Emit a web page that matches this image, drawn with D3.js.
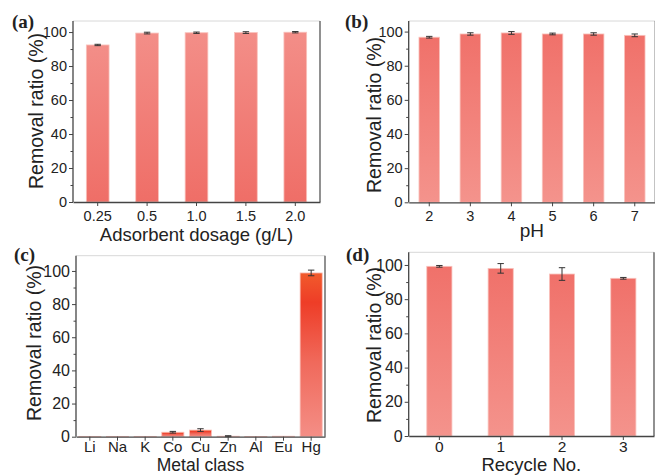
<!DOCTYPE html>
<html>
<head>
<meta charset="utf-8">
<script src="https://cdn.jsdelivr.net/npm/d3@7"></script>
<style>
  html, body { margin: 0; padding: 0; background: #fff; }
  svg { display: block; }
  text { font-family: "Liberation Sans", Arial, Helvetica, sans-serif; fill: #222; }
</style>
</head>
<body>
<svg id="chart" width="655" height="475"></svg>
<script>
// ---- data ----
const dosageCats = ["0.25", "0.5", "1.0", "1.5", "2.0"];
const dosageVals = [92.4, 99.4, 99.6, 99.7, 99.9];
const dosageErr  = [0.4, 0.5, 0.4, 0.5, 0.4];

const phCats = ["2", "3", "4", "5", "6", "7"];
const phVals = [96.7, 98.6, 99.2, 98.6, 98.6, 97.8];
const phErr  = [0.5, 0.7, 0.8, 0.5, 0.7, 0.8];

const metalCats = ["Li", "Na", "K", "Co", "Cu", "Zn", "Al", "Eu", "Hg"];
const metalVals = [0.2, 0.2, 0.2, 2.7, 4.0, 0.3, 0.1, 0.3, 98.8];
const metalErr  = [0, 0, 0, 0.5, 0.8, 0.3, 0, 0, 1.7];

const recycleCats = ["0", "1", "2", "3"];
const recycleVals = [99.2, 98.0, 94.7, 92.2];
const recycleErr  = [0.5, 2.8, 3.7, 0.5];

const yMajorTicks = [0, 20, 40, 60, 80, 100];
const yMinorTicks = [10, 30, 50, 70, 90];
const yTitle = "Removal ratio (%)";

// ---- drawing ----
const svg = d3.select("#chart");
const defs = svg.append("defs");

function gradient(id, stops) {
  const g = defs.append("linearGradient").attr("id", id)
    .attr("x1", 0).attr("y1", 0).attr("x2", 0).attr("y2", 1);
  stops.forEach(s => g.append("stop").attr("offset", s[0]).attr("stop-color", s[1]));
}
gradient("gA", [[0, "#f38e88"], [1, "#ef6e67"]]);
gradient("gB", [[0, "#f0716a"], [1, "#f4938c"]]);
gradient("gC", [[0, "#f15b2c"], [0.18, "#ee3d27"], [0.55, "#f06a5c"], [1, "#f48e86"]]);

function panel(cfg) {
  const x = d3.scaleBand().domain(cfg.cats).range([cfg.x0, cfg.x1]).padding(0);
  const y = d3.scaleLinear().domain([0, cfg.yMax]).range([cfg.yb, cfg.yt]);
  const g = svg.append("g");

  // frame top (light) and right (dark)
  g.append("line").attr("x1", cfg.x0).attr("x2", cfg.x1).attr("y1", cfg.yt).attr("y2", cfg.yt)
    .attr("stroke", "#d8d8d8").attr("stroke-width", 1);
  g.append("line").attr("x1", cfg.x1).attr("x2", cfg.x1).attr("y1", cfg.yt).attr("y2", cfg.yb)
    .attr("stroke", "#555").attr("stroke-width", 1.3);

  const bw = x.bandwidth() * cfg.barFrac;
  const data = cfg.cats.map((c, i) => ({ c, v: cfg.vals[i], e: cfg.errs[i] }));

  g.selectAll("rect.bar").data(data).enter().append("rect")
    .attr("class", "bar")
    .attr("x", d => x(d.c) + (x.bandwidth() - bw) / 2)
    .attr("width", bw)
    .attr("y", d => y(d.v))
    .attr("height", d => y(0) - y(d.v))
    .attr("fill", `url(#${cfg.grad})`)
    .attr("stroke", "#f9c2bc").attr("stroke-width", 0.8);

  // error bars
  const eb = g.selectAll("g.err").data(data.filter(d => d.e > 0)).enter().append("g")
    .attr("stroke", "#333").attr("stroke-width", 1);
  const cap = 3.2;
  const cx = d => x(d.c) + x.bandwidth() / 2;
  eb.append("line").attr("x1", cx).attr("x2", cx)
    .attr("y1", d => y(d.v + d.e)).attr("y2", d => y(d.v - d.e));
  eb.append("line").attr("x1", d => cx(d) - cap).attr("x2", d => cx(d) + cap)
    .attr("y1", d => y(d.v + d.e)).attr("y2", d => y(d.v + d.e));
  eb.append("line").attr("x1", d => cx(d) - cap).attr("x2", d => cx(d) + cap)
    .attr("y1", d => y(d.v - d.e)).attr("y2", d => y(d.v - d.e));

  // y axis
  const ya = g.append("g").attr("transform", `translate(${cfg.x0},0)`)
    .call(d3.axisLeft(y).tickValues(yMajorTicks).tickSize(4).tickSizeOuter(0).tickPadding(2));
  ya.select(".domain").attr("d", `M0,${cfg.yb}V${cfg.yt}`);
  g.append("g").attr("transform", `translate(${cfg.x0},0)`)
    .call(d3.axisLeft(y).tickValues(yMinorTicks).tickSize(2.5).tickFormat("").tickSizeOuter(0))
    .select(".domain").remove();
  ya.selectAll("text").style("font-size", cfg.yTickFont + "px").attr("fill", "#222");

  // x axis
  const xa = g.append("g").attr("transform", `translate(0,${cfg.yb})`)
    .call(d3.axisBottom(x).tickSize(4).tickSizeOuter(0).tickPadding(cfg.xPad));
  xa.selectAll("text").style("font-size", cfg.xTickFont + "px").attr("fill", "#222");

  g.selectAll(".domain").attr("stroke", "#444").attr("stroke-width", 1.3);
  g.selectAll(".tick line").attr("stroke", "#444").attr("stroke-width", 1);

  // titles
  g.append("text").attr("x", (cfg.x0 + Math.min(cfg.x1, 655)) / 2 + (cfg.xtDx || 0)).attr("y", cfg.xtY)
    .attr("text-anchor", "middle").style("font-size", cfg.xtFont + "px").text(cfg.xTitle);
  g.append("text").attr("transform", `translate(${cfg.ytX},${cfg.ytCy}) rotate(-90)`)
    .attr("text-anchor", "middle").style("font-size", "19.5px").text(yTitle);
  g.append("text").attr("x", cfg.lx).attr("y", cfg.ly)
    .style("font-family", "'Liberation Serif', 'Times New Roman', serif")
    .style("font-weight", "bold").style("font-size", "19px").text(cfg.label);
}

panel({ cats: dosageCats, vals: dosageVals, errs: dosageErr, grad: "gA",
  x0: 73, x1: 320, yt: 21, yb: 202, yMax: 106.5, barFrac: 0.46,
  yTickFont: 14.5, xTickFont: 14.5, xPad: 4.5,
  xTitle: "Adsorbent dosage (g/L)", xtFont: 18.5, xtY: 241, ytX: 43, ytCy: 111, label: "(a)", lx: 12, ly: 28 });

panel({ cats: phCats, vals: phVals, errs: phErr, grad: "gB",
  x0: 408.7, x1: 655.3, yt: 21, yb: 202.3, yMax: 106.2, barFrac: 0.5,
  yTickFont: 14.5, xTickFont: 14.5, xPad: 4,
  xTitle: "pH", xtFont: 19, xtY: 237, ytX: 380.5, ytCy: 115, label: "(b)", lx: 345, ly: 28 });

panel({ cats: metalCats, vals: metalVals, errs: metalErr, grad: "gC",
  x0: 76, x1: 325, yt: 255.7, yb: 436.7, yMax: 109.2, barFrac: 0.8,
  yTickFont: 16, xTickFont: 15, xPad: 0.5,
  xTitle: "Metal class", xtFont: 17.5, xtY: 471.2, ytX: 40.5, ytCy: 343, label: "(c)", lx: 14, ly: 261 });

panel({ cats: recycleCats, vals: recycleVals, errs: recycleErr, grad: "gB",
  x0: 408.7, x1: 654, yt: 252.3, yb: 436, yMax: 107.4, barFrac: 0.41,
  yTickFont: 16, xTickFont: 15.5, xPad: 0.5,
  xTitle: "Recycle No.", xtFont: 18.5, xtY: 471, ytX: 380.5, ytCy: 345, label: "(d)", lx: 346, ly: 261 });
</script>
</body>
</html>
